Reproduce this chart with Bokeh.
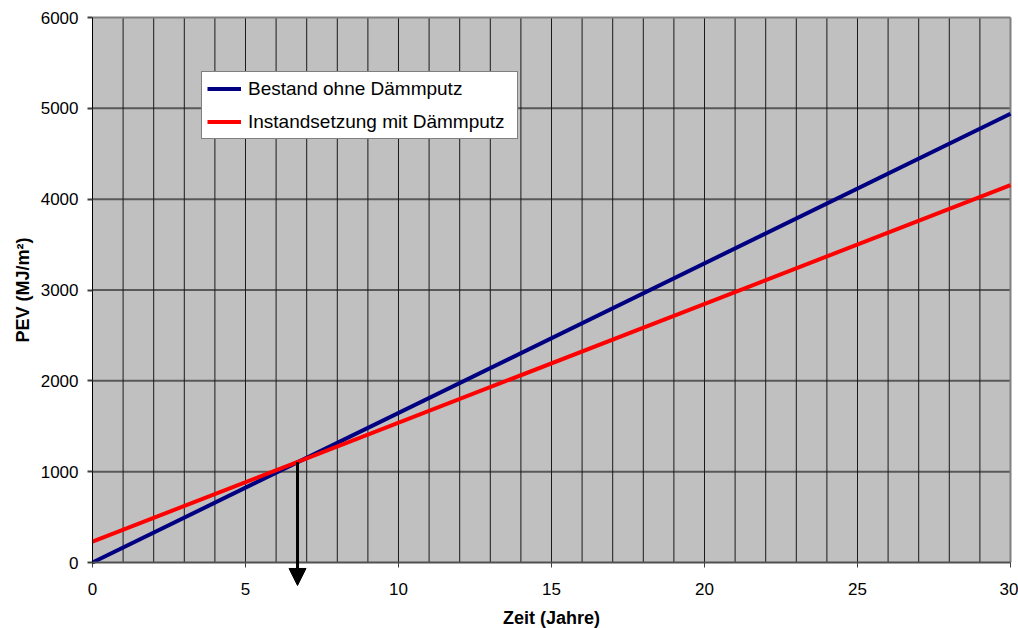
from bokeh.plotting import figure
from bokeh.models import (Range1d, FixedTicker, Legend, LegendItem, Arrow, NormalHead,
                          ColumnDataSource)
from bokeh.embed import file_html
from bokeh.resources import INLINE

# ---- data ----
years = [0, 30]
bestand = [0, 4940]          # Bestand ohne Dämmputz
instand = [230, 4155]        # Instandsetzung mit Dämmputz
x_ticks = [0, 5, 10, 15, 20, 25, 30]
y_ticks = [0, 1000, 2000, 3000, 4000, 5000, 6000]
year_grid = list(range(1, 30))
value_grid = [1000, 2000, 3000, 4000, 5000]
x_min, x_max = 0, 30
y_min, y_max = 0, 6000
cross_x = 6.7                # amortisation point (Jahre)
cross_y = 1105               # PEV at the crossing
arrow_end_y = -253

FONT = "Liberation Sans"

# the frame covers the whole canvas; both axes are fixed at 0 so nothing is clipped
view_x = (-3.0065, 30.2614)
view_y = (-726.6, 6187.2)
p = figure(width=1018, height=628, output_backend="svg", toolbar_location=None,
           x_range=Range1d(*view_x), y_range=Range1d(*view_y),
           min_border_left=0, min_border_right=0, min_border_top=0, min_border_bottom=0)

p.background_fill_color = "white"
p.border_fill_color = "white"
p.outline_line_color = None
p.grid.visible = False

# gray plot area
bg = p.quad(left=[x_min], right=[x_max], bottom=[y_min], top=[y_max],
            fill_color="#C0C0C0", line_color=None)
bg.level = "image"

# grid lines inside the plot area
p.segment(x0=[x_min] * len(value_grid), y0=value_grid, x1=[x_max] * len(value_grid), y1=value_grid,
          line_color="#595959", line_width=2)
p.segment(x0=year_grid, y0=[y_min] * len(year_grid), x1=year_grid, y1=[y_max] * len(year_grid),
          line_color="#1a1a1a", line_width=1)
# top and right border of the plot area
p.segment(x0=[x_min, x_max], y0=[y_max, y_min], x1=[x_max, x_max], y1=[y_max, y_max],
          line_color="#808080", line_width=2)

# axes
p.xaxis.ticker = FixedTicker(ticks=x_ticks)
p.yaxis.ticker = FixedTicker(ticks=y_ticks)
for ax in (p.xaxis[0], p.yaxis[0]):
    ax.major_tick_in = 0
    ax.major_tick_out = 5
    ax.minor_tick_line_color = None
    ax.major_label_text_font = FONT
    ax.major_label_text_font_size = "17px"
    ax.major_label_text_color = "black"
    ax.axis_label_text_font = FONT
    ax.axis_label_text_font_size = "18px"
    ax.axis_label_text_font_style = "bold"
    ax.axis_label_text_color = "black"

p.yaxis.fixed_location = x_min
p.yaxis.bounds = (y_min, y_max)
p.yaxis.axis_line_color = "black"
p.yaxis.axis_line_width = 1
p.yaxis.major_tick_line_color = "#404040"
p.yaxis.major_tick_line_width = 2
p.yaxis.major_label_standoff = 9
p.yaxis.axis_label = "PEV (MJ/m²)"
p.yaxis.axis_label_standoff = 5

p.xaxis.fixed_location = y_min
p.xaxis.bounds = (x_min, x_max)
p.xaxis.axis_line_color = "#505050"
p.xaxis.axis_line_width = 2
p.xaxis.major_tick_line_color = "#404040"
p.xaxis.major_tick_line_width = 1
p.xaxis.major_label_standoff = 15
p.xaxis.axis_label = "Zeit (Jahre)"
p.xaxis.axis_label_standoff = 10

src = ColumnDataSource(dict(x=years, b=bestand, i=instand))
r1 = p.line("x", "b", source=src, line_color="#000080", line_width=4)
r2 = p.line("x", "i", source=src, line_color="#FF0000", line_width=4)

arrow = Arrow(x_start=cross_x, y_start=cross_y, x_end=cross_x, y_end=arrow_end_y,
              line_color="black", line_width=3,
              end=NormalHead(size=17, fill_color="black", line_color="black"))
p.add_layout(arrow)

legend = Legend(items=[LegendItem(label="Bestand ohne Dämmputz", renderers=[r1]),
                       LegendItem(label="Instandsetzung mit Dämmputz", renderers=[r2])],
                location=(201, 489))
legend.label_text_font = FONT
legend.label_text_font_size = "19px"
legend.label_text_color = "black"
legend.padding = 5
legend.spacing = 10
legend.label_height = 23
legend.glyph_height = 23
legend.glyph_width = 34
legend.label_standoff = 7
legend.label_width = 264
legend.border_line_color = "black"
legend.border_line_width = 1
legend.background_fill_color = "white"
legend.background_fill_alpha = 1
legend.margin = 0
p.add_layout(legend, "center")

open("out.html", "w").write(file_html(p, INLINE))
